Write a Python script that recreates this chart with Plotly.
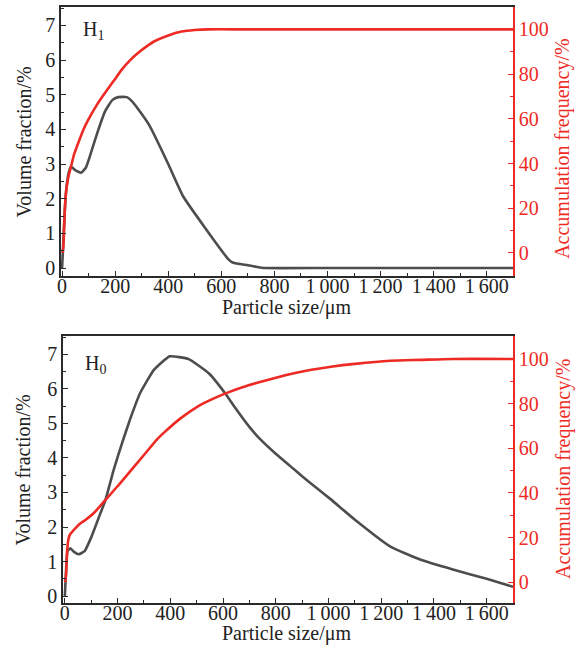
import plotly.graph_objects as go
from plotly.subplots import make_subplots

# ---- data ----
h1_size = [0, 3, 8, 15, 25, 34, 50, 72, 90, 110, 135, 162, 190, 212, 244, 262, 285, 330, 400, 456, 535, 627, 645, 700, 740, 760, 1000, 1400, 1700]
h1_vol = [0, 0.45, 1.3, 2.2, 2.75, 2.93, 2.82, 2.75, 2.9, 3.35, 3.95, 4.52, 4.85, 4.93, 4.93, 4.82, 4.6, 4.1, 3.0, 2.07, 1.2, 0.25, 0.15, 0.08, 0.02, 0.0, 0.0, 0.0, 0.0]
h1_acc_size = [2, 5, 8, 11, 15, 20, 27, 34, 45, 61, 80, 99, 130, 162, 195, 225, 255, 287, 320, 350, 400, 450, 500, 550, 700, 1000, 1400, 1700]
h1_acc = [0, 3, 12, 20.8, 27, 31.5, 35.5, 38.7, 44, 49.2, 55, 59.6, 66, 71.6, 77, 82, 86, 89.5, 92.5, 94.8, 97.3, 99.0, 99.7, 100, 100, 100, 100, 100]

h0_size = [0, 5, 10, 21, 35, 53, 75, 100, 130, 154, 185, 218, 249, 287, 338, 398, 470, 546, 610, 640, 700, 740, 800, 854, 900, 960, 1009, 1110, 1235, 1350, 1472, 1600, 1700]
h0_vol = [0, 0.8, 1.3, 1.38, 1.28, 1.21, 1.3, 1.7, 2.3, 2.78, 3.65, 4.45, 5.15, 5.9, 6.55, 6.94, 6.86, 6.45, 5.85, 5.52, 4.9, 4.55, 4.12, 3.77, 3.47, 3.1, 2.8, 2.15, 1.43, 1.05, 0.77, 0.5, 0.27]
h0_acc_size = [2, 5, 9, 14, 20, 34, 55, 78, 110, 154, 200, 250, 300, 350, 376, 440, 502, 555, 610, 700, 790, 882, 960, 1009, 1100, 1235, 1350, 1472, 1700]
h0_acc = [0, 4, 14.5, 19.5, 21.5, 23.4, 26, 27.9, 31, 36.9, 43, 50, 57, 64, 67, 73.5, 78.6, 81.8, 84.6, 88.3, 91.3, 93.9, 95.6, 96.5, 97.8, 99.2, 99.6, 100, 100]

x_ticks = [0, 200, 400, 600, 800, 1000, 1200, 1400, 1600]
x_ticktext = ["0", "200", "400", "600", "800", "1\u2009000", "1\u2009200", "1\u2009400", "1\u2009600"]
left_ticks = [0, 1, 2, 3, 4, 5, 6, 7]
right_ticks = [0, 20, 40, 60, 80, 100]

GREY = "#4d4d4d"
RED = "#ee2a24"
DARK = "#2a2a2a"
TXT = "#222"
FONT = "Liberation Serif"
FS = 20

fig = make_subplots(rows=2, cols=1, specs=[[{"secondary_y": True}], [{"secondary_y": True}]],
                    vertical_spacing=0.1)

fig.add_trace(go.Scatter(x=h1_size, y=h1_vol, mode="lines", line=dict(color=GREY, width=2.6, shape="spline", smoothing=0.4),
                         showlegend=False), row=1, col=1, secondary_y=False)
fig.add_trace(go.Scatter(x=h1_acc_size, y=h1_acc, mode="lines", line=dict(color=RED, width=2.6, shape="spline", smoothing=0.6),
                         showlegend=False), row=1, col=1, secondary_y=True)
fig.add_trace(go.Scatter(x=h0_size, y=h0_vol, mode="lines", line=dict(color=GREY, width=2.6, shape="spline", smoothing=0.4),
                         showlegend=False), row=2, col=1, secondary_y=False)
fig.add_trace(go.Scatter(x=h0_acc_size, y=h0_acc, mode="lines", line=dict(color=RED, width=2.6, shape="spline", smoothing=0.6),
                         showlegend=False), row=2, col=1, secondary_y=True)

xax = dict(tickvals=x_ticks, ticktext=x_ticktext, ticks="inside", ticklen=5,
           tickwidth=1.3, tickcolor=DARK, showline=True, linecolor=DARK, linewidth=1.5, mirror=True,
           showgrid=False, zeroline=False, tickfont=dict(family=FONT, size=FS, color=TXT),
           minor=dict(dtick=100, ticks="inside", ticklen=3, tickcolor=DARK, showgrid=False),
           ticklabelstandoff=-9, automargin=False)
ylax = dict(tickvals=left_ticks, ticks="inside", ticklen=5, tickwidth=1.3, tickcolor=DARK,
            showline=True, linecolor=DARK, linewidth=1.5, showgrid=False, zeroline=False,
            tickfont=dict(family=FONT, size=FS, color=TXT),
            minor=dict(dtick=0.5, ticks="inside", ticklen=3, tickcolor=DARK, showgrid=False),
            automargin=False)
yrax = dict(tickvals=right_ticks, ticks="inside", ticklen=5, tickwidth=1.3, tickcolor=RED,
            showline=True, linecolor=RED, linewidth=1.5, showgrid=False, zeroline=False,
            tickfont=dict(family=FONT, size=FS, color=RED),
            minor=dict(dtick=10, ticks="inside", ticklen=3, tickcolor=RED, showgrid=False),
            automargin=False)

fig.update_layout(
    width=579, height=649, paper_bgcolor="white", plot_bgcolor="white",
    margin=dict(l=61, r=66, t=7, b=46),
    xaxis=dict(xax, range=[-4, 1699], domain=[0, 1]),
    xaxis2=dict(xax, range=[-7, 1700], domain=[0.0044, 1]),
    yaxis=dict(ylax, range=[-0.23, 7.53], domain=[0.5487, 1]),
    yaxis2=dict(yrax, range=[-10.3, 110], overlaying="y", side="right"),
    yaxis3=dict(ylax, range=[-0.2, 7.53], domain=[0, 0.448]),
    yaxis4=dict(yrax, range=[-9.3, 110.3], overlaying="y3", side="right"),
)

# axis titles as annotations (paper coordinates)
for yy in (0.4966, -0.0520):
    fig.add_annotation(x=0.498, y=yy, xref="paper", yref="paper", text="Particle size/μm",
                       showarrow=False, xanchor="center", yanchor="middle",
                       font=dict(family=FONT, size=FS, color=TXT))
for yy in (0.7743, 0.224):
    fig.add_annotation(x=-0.0819, y=yy, xref="paper", yref="paper", text="Volume fraction/%",
                       showarrow=False, textangle=-90, xanchor="center", yanchor="middle",
                       font=dict(family=FONT, size=FS, color=TXT))
for yy in (0.762, 0.2248):
    fig.add_annotation(x=1.1106, y=yy, xref="paper", yref="paper", text="Accumulation frequency/%",
                       showarrow=False, textangle=-90, xanchor="center", yanchor="middle",
                       font=dict(family=FONT, size=FS, color=RED))

fig.add_annotation(x=70, y=6.85, xref="x", yref="y", text="H<sub>1</sub>", showarrow=False,
                   xanchor="left", font=dict(family=FONT, size=FS, color=TXT))
fig.add_annotation(x=70, y=6.7, xref="x2", yref="y3", text="H<sub>0</sub>", showarrow=False,
                   xanchor="left", font=dict(family=FONT, size=FS, color=TXT))

fig.write_html("out.html", config={"displayModeBar": False},
               post_script="document.body.style.margin='0px';")
